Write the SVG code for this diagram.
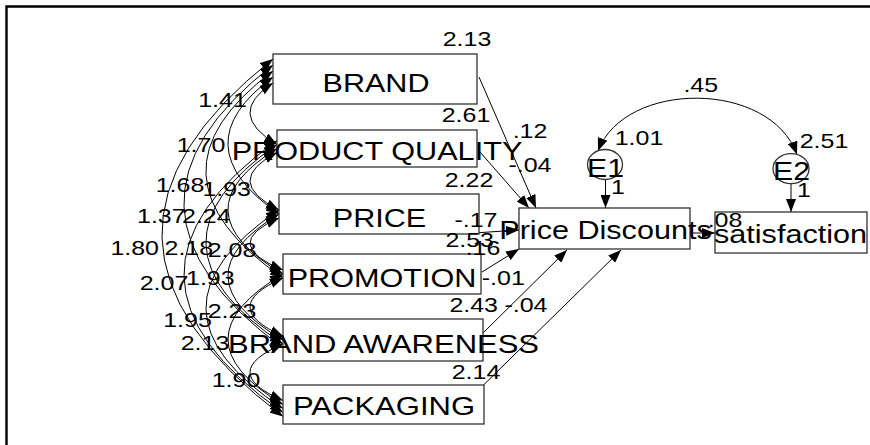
<svg xmlns="http://www.w3.org/2000/svg" width="870" height="445" viewBox="0 0 870 445">
<defs>
<marker id="ah" viewBox="0 0 13 10" refX="13" refY="5" markerWidth="13" markerHeight="10" markerUnits="userSpaceOnUse" orient="auto-start-reverse"><path d="M0,0 L13,5 L0,10 z" fill="#000"/></marker>
</defs>
<style>
.box{fill:#fff;stroke:#333;stroke-width:1.3}
.nt{font-family:"Liberation Sans",Arial,sans-serif;font-size:25.5px;fill:#000;text-anchor:middle}
.lb{font-family:"Liberation Sans",Arial,sans-serif;font-size:21px;fill:#000;text-anchor:middle}
.c{fill:none;stroke:#000;stroke-width:1;marker-end:url(#ah)}
.cv{fill:none;stroke:#000;stroke-width:1;marker-start:url(#ah);marker-end:url(#ah)}
</style>
<rect width="870" height="445" fill="#fff"/>
<path d="M6.5,445 V6.5 H870" fill="none" stroke="#000" stroke-width="2.4"/>
<g id="connectors">
<path class="cv" d="M273,83 Q225,113.75 277,144.5"/>
<path class="cv" d="M277,152.5 Q222,181.25 279,210"/>
<path class="cv" d="M279,218 Q219,244 283,270"/>
<path class="cv" d="M283,278 Q217,307 283,336"/>
<path class="cv" d="M283,344 Q217,372.25 283,400.5"/>
<path class="cv" d="M273,77 Q180,145.5 279,214"/>
<path class="cv" d="M277,148.5 Q176,211.25 283,274"/>
<path class="cv" d="M279,214 Q175,277 283,340"/>
<path class="cv" d="M283,274 Q173,339.25 283,404.5"/>
<path class="cv" d="M273,71 Q134,174.5 283,278"/>
<path class="cv" d="M277,144.5 Q132,244.25 283,344"/>
<path class="cv" d="M279,210 Q131,309.25 283,408.5"/>
<path class="cv" d="M273,65 Q90,206.5 283,348"/>
<path class="cv" d="M277,140.5 Q88,276.5 283,412.5"/>
<path class="cv" d="M273,59 Q46,237.75 283,416.5"/>
<path class="c" d="M479,77 L536,208"/>
<path class="c" d="M480,152 L529,208"/>
<path class="c" d="M479,232.7 L519,230"/>
<path class="c" d="M482,272 L519,249"/>
<path class="c" d="M483,333 L567,250"/>
<path class="c" d="M483.5,385 L621,250"/>
<path class="c" d="M690,233 L715,233"/>
<path class="c" d="M605.5,179.5 L605.5,208"/>
<path class="c" d="M791,184 L791,212"/>
<path class="cv" d="M598,151 C625,80 770,80 797,154.5"/>
</g>
<g id="node-brand"><rect class="box" x="273" y="54" width="204" height="50"/><text class="nt" x="376" y="92" textLength="107" lengthAdjust="spacingAndGlyphs">BRAND</text></g>
<g id="node-product-quality"><rect class="box" x="277" y="130" width="200" height="37"/><text class="nt" x="377" y="160" textLength="290.7" lengthAdjust="spacingAndGlyphs">PRODUCT QUALITY</text></g>
<g id="node-price"><rect class="box" x="279" y="194" width="200" height="40"/><text class="nt" x="379.5" y="226.7" textLength="93.5" lengthAdjust="spacingAndGlyphs">PRICE</text></g>
<g id="node-promotion"><rect class="box" x="283" y="254" width="198" height="40"/><text class="nt" x="382" y="286.7" textLength="188.7" lengthAdjust="spacingAndGlyphs">PROMOTION</text></g>
<g id="node-brand-awareness"><rect class="box" x="283" y="319" width="200" height="42"/><text class="nt" x="383.5" y="353.3" textLength="311" lengthAdjust="spacingAndGlyphs">BRAND AWARENESS</text></g>
<g id="node-packaging"><rect class="box" x="283" y="385" width="201" height="39"/><text class="nt" x="384" y="415" textLength="182" lengthAdjust="spacingAndGlyphs">PACKAGING</text></g>
<g id="node-price-discounts"><rect class="box" x="519" y="208" width="171" height="41"/><text class="nt" x="605.5" y="239" textLength="212.5" lengthAdjust="spacingAndGlyphs">Price Discounts</text></g>
<g id="node-satisfaction"><rect class="box" x="715" y="212" width="152" height="41"/><text class="nt" x="790.5" y="242.7" textLength="153" lengthAdjust="spacingAndGlyphs">satisfaction</text></g>
<g id="node-e1"><ellipse class="box" cx="605" cy="164.5" rx="17.5" ry="15"/><text class="nt" x="605.5" y="176.7" textLength="37" lengthAdjust="spacingAndGlyphs">E1</text></g>
<g id="node-e2"><ellipse class="box" cx="791" cy="168.7" rx="18" ry="15"/><text class="nt" x="791.5" y="180" textLength="37" lengthAdjust="spacingAndGlyphs">E2</text></g>
<g id="labels">
<text class="lb" x="467" y="46" textLength="48.6" lengthAdjust="spacingAndGlyphs">2.13</text>
<text class="lb" x="466" y="121.7" textLength="48.6" lengthAdjust="spacingAndGlyphs">2.61</text>
<text class="lb" x="530" y="138.3" textLength="34.7" lengthAdjust="spacingAndGlyphs">.12</text>
<text class="lb" x="530" y="171.7" textLength="43.1" lengthAdjust="spacingAndGlyphs">-.04</text>
<text class="lb" x="469" y="187.3" textLength="48.6" lengthAdjust="spacingAndGlyphs">2.22</text>
<text class="lb" x="476" y="226.7" textLength="43.1" lengthAdjust="spacingAndGlyphs">-.17</text>
<text class="lb" x="483" y="255" textLength="34.7" lengthAdjust="spacingAndGlyphs">.16</text>
<text class="lb" x="469.7" y="247.3" textLength="48.6" lengthAdjust="spacingAndGlyphs">2.53</text>
<text class="lb" x="503.3" y="285" textLength="43.1" lengthAdjust="spacingAndGlyphs">-.01</text>
<text class="lb" x="473.7" y="311.7" textLength="48.6" lengthAdjust="spacingAndGlyphs">2.43</text>
<text class="lb" x="526" y="311.7" textLength="43.1" lengthAdjust="spacingAndGlyphs">-.04</text>
<text class="lb" x="476" y="379" textLength="48.6" lengthAdjust="spacingAndGlyphs">2.14</text>
<text class="lb" x="700.8" y="92.3" textLength="34.7" lengthAdjust="spacingAndGlyphs">.45</text>
<text class="lb" x="639" y="145" textLength="48.6" lengthAdjust="spacingAndGlyphs">1.01</text>
<text class="lb" x="824" y="148.3" textLength="48.6" lengthAdjust="spacingAndGlyphs">2.51</text>
<text class="lb" x="618" y="194" textLength="13.9" lengthAdjust="spacingAndGlyphs">1</text>
<text class="lb" x="804" y="196.7" textLength="13.9" lengthAdjust="spacingAndGlyphs">1</text>
<text class="lb" x="725" y="226.7" textLength="34.7" lengthAdjust="spacingAndGlyphs">.08</text>
<text class="lb" x="222.5" y="107.3" textLength="48.6" lengthAdjust="spacingAndGlyphs">1.41</text>
<text class="lb" x="201" y="151.7" textLength="48.6" lengthAdjust="spacingAndGlyphs">1.70</text>
<text class="lb" x="180" y="191.7" textLength="48.6" lengthAdjust="spacingAndGlyphs">1.68</text>
<text class="lb" x="226.7" y="195.7" textLength="48.6" lengthAdjust="spacingAndGlyphs">1.93</text>
<text class="lb" x="161.3" y="223.3" textLength="48.6" lengthAdjust="spacingAndGlyphs">1.37</text>
<text class="lb" x="206.3" y="223.3" textLength="48.6" lengthAdjust="spacingAndGlyphs">2.24</text>
<text class="lb" x="134.7" y="255" textLength="48.6" lengthAdjust="spacingAndGlyphs">1.80</text>
<text class="lb" x="188.8" y="255" textLength="48.6" lengthAdjust="spacingAndGlyphs">2.18</text>
<text class="lb" x="232" y="257.3" textLength="48.6" lengthAdjust="spacingAndGlyphs">2.08</text>
<text class="lb" x="164" y="290" textLength="48.6" lengthAdjust="spacingAndGlyphs">2.07</text>
<text class="lb" x="210.3" y="285" textLength="48.6" lengthAdjust="spacingAndGlyphs">1.93</text>
<text class="lb" x="232" y="318.3" textLength="48.6" lengthAdjust="spacingAndGlyphs">2.23</text>
<text class="lb" x="187.5" y="326.7" textLength="48.6" lengthAdjust="spacingAndGlyphs">1.95</text>
<text class="lb" x="205" y="350" textLength="48.6" lengthAdjust="spacingAndGlyphs">2.13</text>
<text class="lb" x="236" y="387.3" textLength="48.6" lengthAdjust="spacingAndGlyphs">1.90</text>
</g>
</svg>
